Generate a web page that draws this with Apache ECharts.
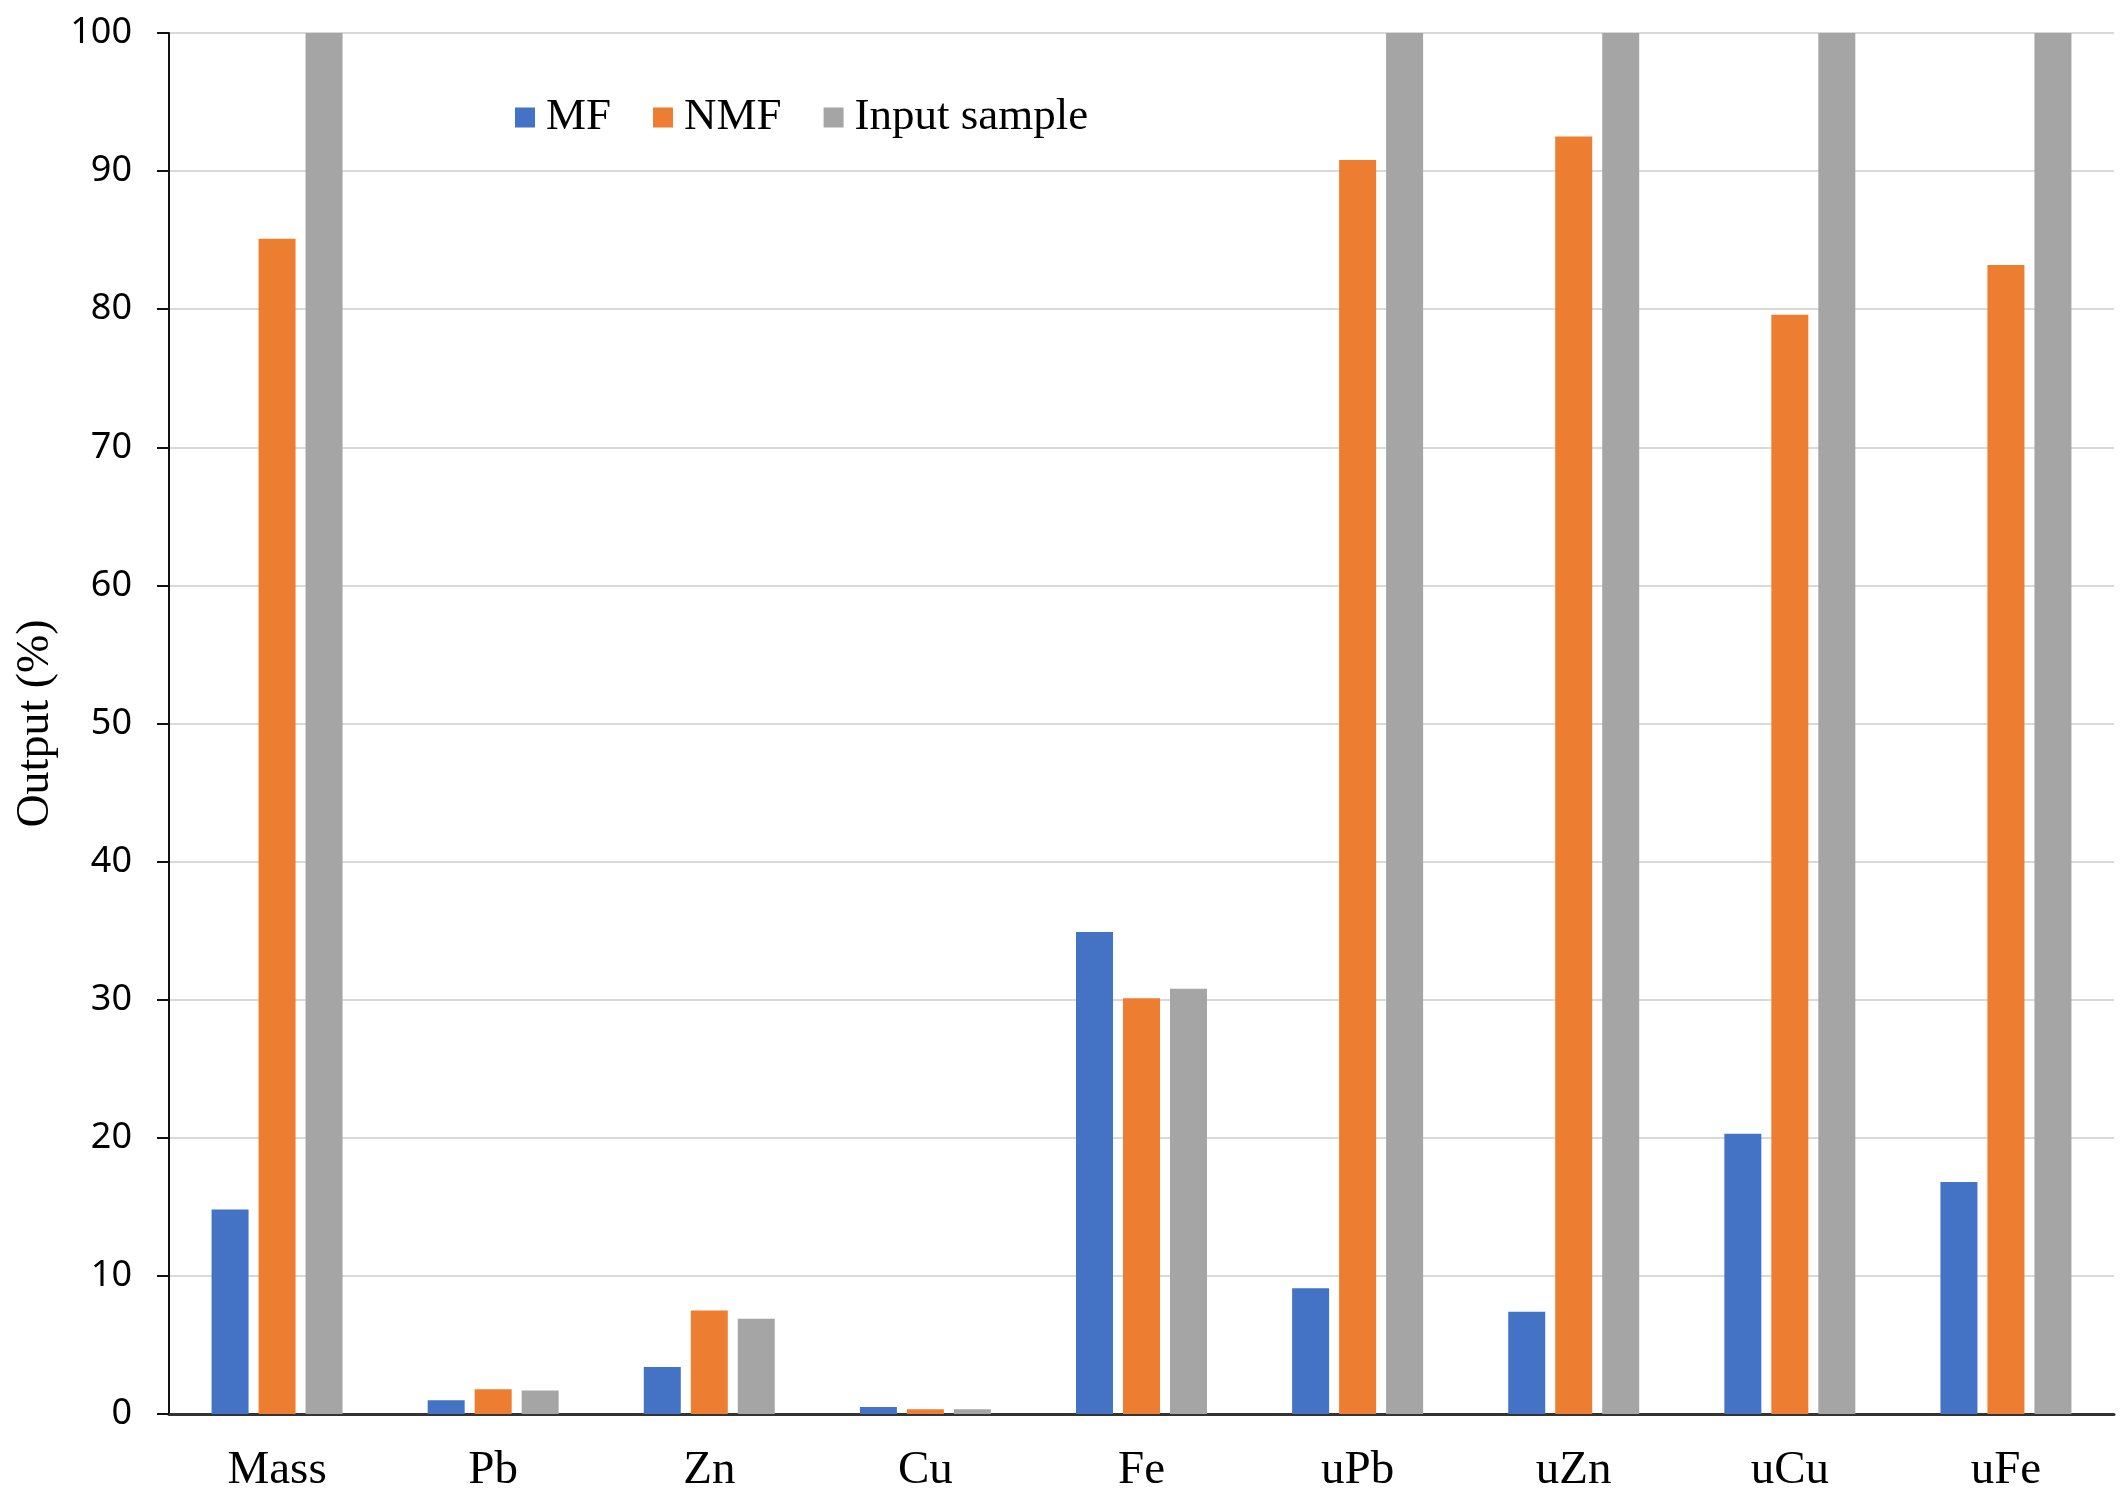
<!DOCTYPE html>
<html>
<head>
<meta charset="utf-8">
<script src="https://cdn.jsdelivr.net/npm/echarts@6/dist/echarts.min.js"></script>
<style>
html,body{margin:0;padding:0;background:#fff;}
#chart{width:2124px;height:1511px;}
</style>
</head>
<body>
<div id="chart"></div>
<script>
var categories = ['Mass', 'Pb', 'Zn', 'Cu', 'Fe', 'uPb', 'uZn', 'uCu', 'uFe'];
var mfValues = [14.8, 1.0, 3.4, 0.5, 34.9, 9.1, 7.4, 20.3, 16.8];
var nmfValues = [85.1, 1.8, 7.5, 0.35, 30.1, 90.8, 92.5, 79.6, 83.2];
var inputValues = [100, 1.7, 6.9, 0.35, 30.8, 100, 100, 100, 100];
var seriesNames = ['MF', 'NMF', 'Input sample'];
var yTicks = [0, 10, 20, 30, 40, 50, 60, 70, 80, 90, 100];

var chart = echarts.init(document.getElementById('chart'), null, {renderer: 'canvas'});
var serif = '"Liberation Serif", "Times New Roman", serif';
var colors = ['#4472C4', '#ED7D31', '#A5A5A5'];
var data = [mfValues, nmfValues, inputValues];

chart.setOption({
  animation: false,
  backgroundColor: '#ffffff',
  color: colors,
  legend: {
    data: seriesNames,
    left: 510,
    top: 90,
    itemWidth: 20,
    itemHeight: 20,
    itemGap: 42,
    icon: 'rect',
    textStyle: {fontFamily: serif, fontSize: 45, color: '#000', padding: [0, 0, 0, 6]}
  },
  grid: {left: 169, right: 10, top: 33, bottom: 97, containLabel: false},
  xAxis: {
    type: 'category',
    data: categories,
    axisLine: {show: true, lineStyle: {color: '#333', width: 3}},
    axisTick: {show: false},
    axisLabel: {fontFamily: serif, fontSize: 47, color: '#000', margin: 33},
    splitLine: {show: false}
  },
  yAxis: {
    type: 'value',
    min: yTicks[0],
    max: yTicks[yTicks.length - 1],
    interval: 10,
    name: 'Output (%)',
    nameLocation: 'middle',
    nameGap: 92,
    nameTextStyle: {fontFamily: serif, fontSize: 46, color: '#000'},
    axisLine: {show: true, lineStyle: {color: '#111', width: 2}},
    axisTick: {show: true, length: 12, lineStyle: {color: '#111', width: 2}},
    axisLabel: {fontFamily: '"Noto Sans", sans-serif', fontSize: 36, color: '#000', margin: 37},
    splitLine: {show: true, lineStyle: {color: '#d9d9d9', width: 2}}
  },
  series: seriesNames.map(function (n, i) {
    return {
      name: n,
      type: 'bar',
      data: data[i],
      barWidth: 37,
      barGap: '27%',
      itemStyle: {color: colors[i]}
    };
  })
});
</script>
</body>
</html>
